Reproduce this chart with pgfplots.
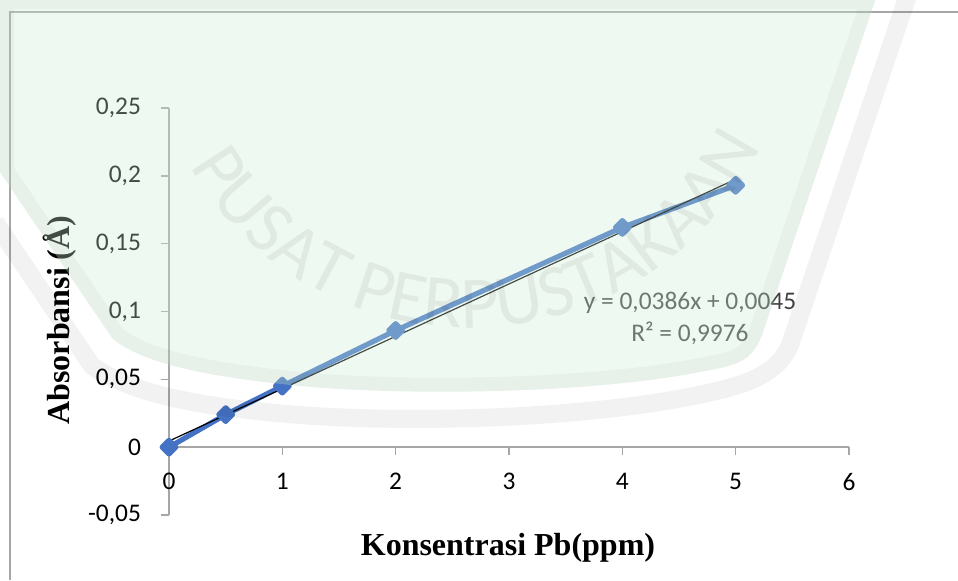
\documentclass[border=0pt]{standalone}
\usepackage{fontspec}
\setmainfont{Carlito}
\newfontfamily\timesfont{Liberation Serif}
\usepackage{pgfplots}
\pgfplotsset{compat=1.18}
\usetikzlibrary{decorations.text}

\definecolor{serblue}{HTML}{4472C4}
\definecolor{axgrey}{RGB}{166,166,166}
\definecolor{mint}{RGB}{204,236,214}
\definecolor{eqgrey}{RGB}{64,64,64}

\begin{document}
\begin{tikzpicture}
\useasboundingbox (0,0) rectangle (479pt,290pt);

% chart frame (only the left and top edges are inside the crop)
\begin{scope}[x=0.5pt,y=-0.5pt,shift={(0,290pt)}]
  \draw[axgrey, line width=0.7pt] (10,580) -- (10,12) -- (958,12);
\end{scope}

\begin{axis}[
  at={(84.5pt,32.5pt)}, anchor=south west,
  scale only axis, width=340pt, height=203.5pt,
  xmin=0, xmax=6, ymin=-0.05, ymax=0.25,
  axis x line=middle, axis y line=left,
  axis line style={-, draw=axgrey, line width=0.7pt},
  xtick={0,1,2,3,4,5,6},
  ytick={-0.05,0,0.05,0.1,0.15,0.2,0.25},
  hide obscured x ticks=false, hide obscured y ticks=false,
  tick align=outside, major tick length=4pt,
  tick style={axgrey, line width=0.7pt},
  scaled y ticks=false,
  /pgf/number format/.cd, use comma, assume math mode=true, fixed, precision=2,
  /pgfplots/.cd,
  ticklabel style={font=\fontsize{12.7}{14}\selectfont, text=black},
  xticklabel style={anchor=north, yshift=-5.5pt},
  yticklabel style={anchor=east, xshift=-6.5pt},
  xlabel={Konsentrasi Pb(ppm)},
  ylabel={Absorbansi (Å)},
  label style={font=\timesfont\bfseries\fontsize{16}{18}\selectfont},
  xlabel style={at={(rel axis cs:0.4985,-0.0983)}, anchor=base},
  ylabel style={at={(rel axis cs:-0.1456,0.479)}, anchor=base, rotate=0},
  clip=false,
]
\addplot[serblue, line width=2.6pt, line join=round,
  mark=square*, mark size=2.4pt, mark options={rotate=45, solid}]
  coordinates {(0,0) (0.5,0.024) (1,0.045) (2,0.086) (4,0.162) (5,0.193)};
\addplot[black, line width=0.6pt, no marks]
  coordinates {(0,0.0045) (5,0.1975)};
\node[anchor=base, text=eqgrey, font=\fontsize{12.7}{14}\selectfont]
  at (axis cs:4.597,0.1018) {y = 0,0386x + 0,0045};
\node[anchor=base, text=eqgrey, font=\fontsize{12.7}{14}\selectfont]
  at (axis cs:4.597,0.0782) {R² = 0,9976};
\end{axis}

% library watermark laid over the chart
\begin{scope}[x=0.5pt,y=-0.5pt,shift={(0,290pt)}]
  \def\shield{(0,-5) -- (877,-5) -- (762,335)
    .. controls (752,362) and (735,366) .. (700,372)
    .. controls (600,392) and (420,397) .. (300,386)
    .. controls (200,376) and (140,362) .. (112,338) -- (0,172) -- cycle}
  \fill[mint, opacity=0.33] \shield;
  \begin{scope}
    \clip \shield;
    \draw[black, opacity=0.03, line width=14pt] \shield;
  \end{scope}
  \draw[black, opacity=0.05, line width=9pt]
    (-5,222) -- (92,366) .. controls (135,395) and (200,407) .. (300,415)
    .. controls (420,424) and (600,418) .. (712,392)
    .. controls (752,383) and (778,372) .. (790,345) -- (908,-5);
\end{scope}
\begin{scope}[opacity=0.06]
  \path[decorate, decoration={text along path,
      text={|\fontsize{37}{40}\selectfont\color{black}|PUSAT PERPUSTAKAAN},
      text align=center}]
    (235pt,288pt) ++(197:162pt) arc[start angle=197, end angle=347, radius=162pt];
\end{scope}
\end{tikzpicture}
\end{document}
